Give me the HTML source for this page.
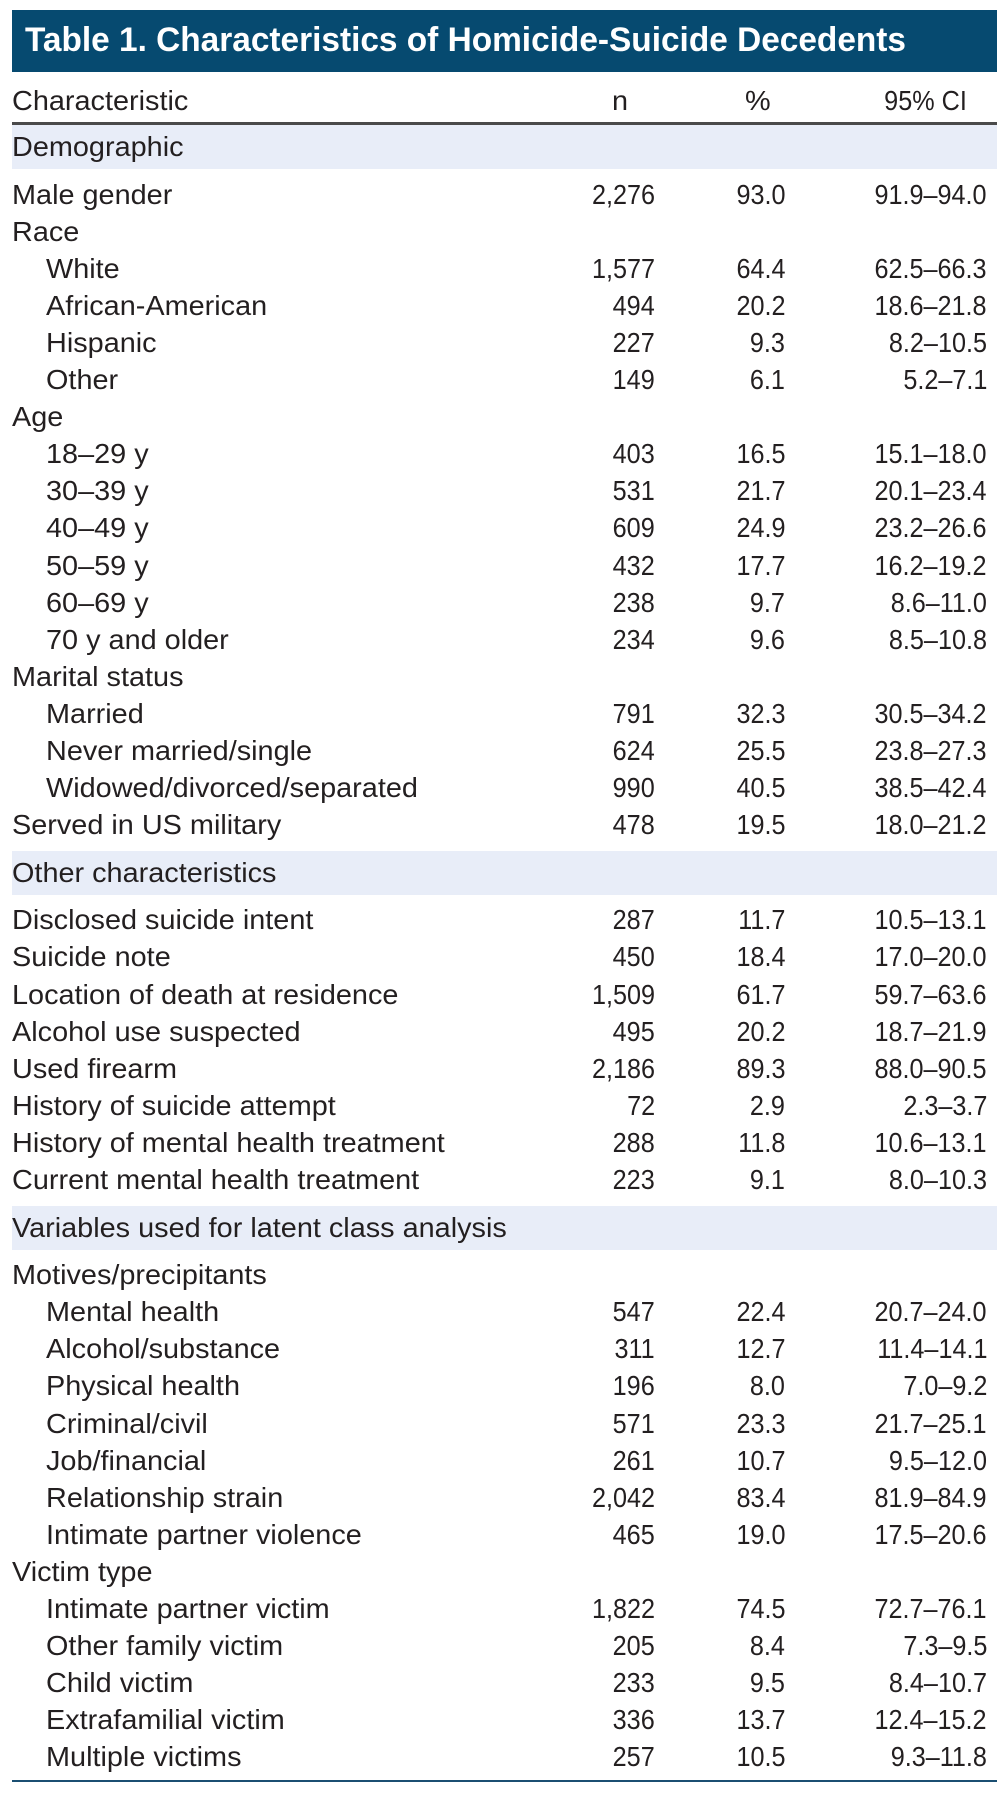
<!DOCTYPE html>
<html><head><meta charset="utf-8">
<style>
html,body{margin:0;padding:0;background:#fff;}
body{width:1003px;height:1797px;position:relative;overflow:hidden;font-family:"Liberation Sans",sans-serif;color:#231f20;}
.abs{position:absolute;white-space:nowrap;}
#title-bar{position:absolute;left:12px;top:10px;width:985px;height:62px;background:#064a70;}
#title{position:absolute;left:13px;top:11px;font-weight:bold;font-size:34px;color:#fff;transform-origin:0 0;}
.band{position:absolute;left:12px;width:985px;height:44px;background:#e8edf8;}
.cell{position:absolute;font-size:28px;line-height:30px;white-space:nowrap;transform:scaleX(1.03);transform-origin:0 50%;}
.r{text-align:right;transform:scaleX(0.9);transform-origin:100% 50%;}
</style></head><body>
<div id="title-bar"><div id="title">Table 1. Characteristics of Homicide-Suicide Decedents</div></div>
<div class="cell" style="left:12px;top:86px">Characteristic</div>
<div class="cell" style="left:612px;top:86px">n</div>
<div class="cell" style="left:745px;top:86px">%</div>
<div class="cell r" style="right:36px;top:86px">95% CI</div>
<div class="abs" style="left:12px;top:122px;width:985px;height:3px;background:#4a4a4a"></div>
<div id="table"></div>
<script>
const labels=["#Demographic","Male gender","Race",">White",">African-American",">Hispanic",">Other","Age",">18–29 y",">30–39 y",">40–49 y",">50–59 y",">60–69 y",">70 y and older","Marital status",">Married",">Never married/single",">Widowed/divorced/separated","Served in US military","#Other characteristics","Disclosed suicide intent","Suicide note","Location of death at residence","Alcohol use suspected","Used firearm","History of suicide attempt","History of mental health treatment","Current mental health treatment","#Variables used for latent class analysis","Motives/precipitants",">Mental health",">Alcohol/substance",">Physical health",">Criminal/civil",">Job/financial",">Relationship strain",">Intimate partner violence","Victim type",">Intimate partner victim",">Other family victim",">Child victim",">Extrafamilial victim",">Multiple victims"];
const nValues=["","2,276","","1,577","494","227","149","","403","531","609","432","238","234","","791","624","990","478","","287","450","1,509","495","2,186","72","288","223","","","547","311","196","571","261","2,042","465","","1,822","205","233","336","257"];
const pctValues=["","93.0","","64.4","20.2","9.3","6.1","","16.5","21.7","24.9","17.7","9.7","9.6","","32.3","25.5","40.5","19.5","","11.7","18.4","61.7","20.2","89.3","2.9","11.8","9.1","","","22.4","12.7","8.0","23.3","10.7","83.4","19.0","","74.5","8.4","9.5","13.7","10.5"];
const ciValues=["","91.9–94.0","","62.5–66.3","18.6–21.8","8.2–10.5","5.2–7.1","","15.1–18.0","20.1–23.4","23.2–26.6","16.2–19.2","8.6–11.0","8.5–10.8","","30.5–34.2","23.8–27.3","38.5–42.4","18.0–21.2","","10.5–13.1","17.0–20.0","59.7–63.6","18.7–21.9","88.0–90.5","2.3–3.7","10.6–13.1","8.0–10.3","","","20.7–24.0","11.4–14.1","7.0–9.2","21.7–25.1","9.5–12.0","81.9–84.9","17.5–20.6","","72.7–76.1","7.3–9.5","8.4–10.7","12.4–15.2","9.3–11.8"];
const tbl=document.getElementById('table');
let y=125, first=true;
const pitch=37.1;
function mk(cls,txt,style){const d=document.createElement('div');d.className=cls;d.textContent=txt;d.setAttribute('style',style);tbl.appendChild(d);return d;}
labels.forEach((lab,i)=>{
  if(lab[0]==='#'){
    if(!first) y+=7;
    first=false;
    const b=mk('band','', 'top:'+y+'px');
    
    
    const t=mk('cell',lab.slice(1),'left:12px;top:'+(y+7)+'px');
    
    
    y+=44+7;
    return;
  }
  const indent=lab[0]==='>';
  const text=indent?lab.slice(1):lab;
  const ty=y+(pitch-30)/2;
  const l=mk('cell',text,'left:'+(indent?46:12)+'px;top:'+ty+'px');
  
  
  if(nValues[i]){
    const a=mk('cell r',nValues[i],'right:'+(1003-655)+'px;top:'+ty+'px');
    
    
    const b=mk('cell r',pctValues[i],'right:'+(1003-785)+'px;top:'+ty+'px');
    
    
    const c=mk('cell r',ciValues[i],'right:'+(1003-987)+'px;top:'+ty+'px');
    
    
  }
  y+=pitch;
});
const rule=document.createElement('div');
rule.className='abs';
rule.setAttribute('style','left:12px;top:'+(y+4)+'px;width:985px;height:2px;background:#1b4f72');


tbl.appendChild(rule);
const t=document.getElementById('title');
const w=t.getBoundingClientRect().width;
t.style.transform='scaleX('+(881/w)+')';
</script>
</body></html>
